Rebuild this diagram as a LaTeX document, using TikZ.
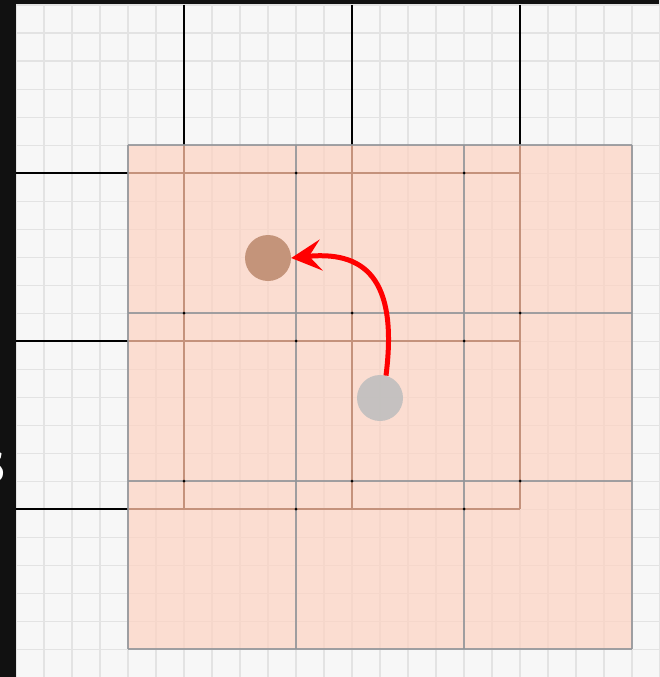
\documentclass[tikz,border=0pt]{standalone}
\usetikzlibrary{arrows.meta}
\definecolor{bgc}{RGB}{247,247,247}
\definecolor{finec}{RGB}{227,227,227}
\definecolor{framec}{RGB}{17,17,17}
\definecolor{overc}{RGB}{253,211,194}
\definecolor{ovlinec}{RGB}{145,148,152}
\definecolor{underc}{RGB}{196,146,124}
\definecolor{brownc}{RGB}{196,148,122}
\definecolor{grayc}{RGB}{190,190,190}
\definecolor{arrowc}{RGB}{255,0,0}
\tikzset{
  fineline/.style={draw=finec, line width=1.6pt},
  bigline/.style={draw=black, line width=2pt},
  underline/.style={draw=underc, line width=2.4pt},
  overlay box/.style={fill=overc, fill opacity=0.7},
  ovline/.style={draw=ovlinec, line width=1.8pt, draw opacity=0.85},
  crossdot/.style={fill=black, circle, inner sep=0pt, minimum size=3pt},
  ball/.style={circle, inner sep=0pt, minimum size=46pt},
  movearrow/.style={draw=arrowc, line width=5pt, -{Stealth[length=30pt, width=31pt, inset=12pt]}}
}
\begin{document}
\begin{tikzpicture}[x=1pt,y=-1pt]
\useasboundingbox (0,0) rectangle (659,677);
% background
\fill[bgc] (0,0) rectangle (659,677);
% fine grid
\foreach \k in {0,...,23} {
  \draw[fineline] ({15.7+28*\k},0) -- ({15.7+28*\k},677);
}
\foreach \k in {0,...,24} {
  \draw[fineline] (0,{5.3+28*\k}) -- (659,{5.3+28*\k});
}
% large black grid
\foreach \x in {184,352,520} {
  \draw[bigline] (\x,5) -- (\x,509);
}
\foreach \y in {173,341,509} {
  \draw[bigline] (15,\y) -- (520,\y);
}
% overlay
\fill[overlay box] (128,145) rectangle (632,649);
% grid lines seen through the overlay
\begin{scope}
\clip (128,145) rectangle (632,649);
\foreach \x in {184,352,520} {
  \draw[underline] (\x,5) -- (\x,509);
}
\foreach \y in {173,341,509} {
  \draw[underline] (15,\y) -- (520,\y);
}
\end{scope}
\foreach \x in {128,296,464,632} {
  \draw[ovline] (\x,145) -- (\x,649);
}
\foreach \y in {145,313,481,649} {
  \draw[ovline] (128,\y) -- (632,\y);
}
% crossing dots
\foreach \p [count=\i] in {(296,173),(464,173),(296,341),(464,341),(296,509),(464,509),(184,313),(352,313),(520,313),(184,481),(352,481),(520,481)} {
  \node[crossdot] (d\i) at \p {};
}
% frame
\fill[framec] (0,0) rectangle (15.5,677);
\fill[framec] (0,0) rectangle (659,4.5);
\begin{scope}
\clip (0,0) rectangle (15,677);
\node[text=white, font=\sffamily\bfseries\fontsize{42}{42}\selectfont, anchor=east, inner sep=0pt] (lbl) at (6,467) {S};
\end{scope}
% balls
\node[ball, fill=brownc] (target) at (268,258) {};
\node[ball, fill=grayc, fill opacity=0.88] (source) at (380,398) {};
% arrow
\draw[movearrow] (source.75) .. controls (397,288) and (372,250) .. (target.east);
\end{tikzpicture}
\end{document}
